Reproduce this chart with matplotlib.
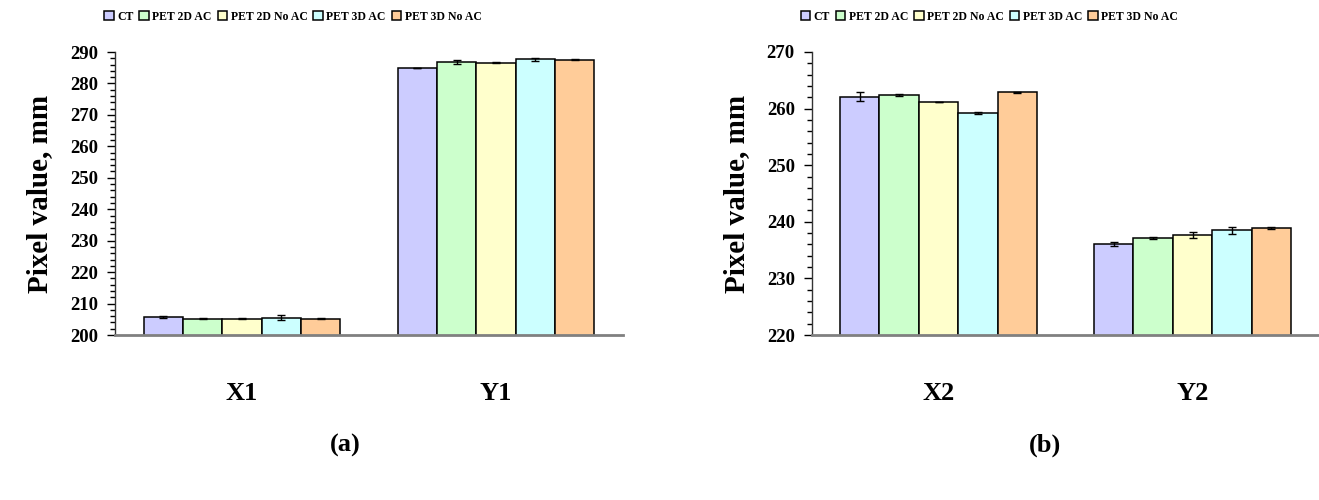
import numpy as np
import matplotlib.pyplot as plt
from matplotlib.ticker import MultipleLocator

# Data
series = ['CT', 'PET 2D AC', 'PET 2D No AC', 'PET 3D AC', 'PET 3D No AC']
colors = ['#CCCCFF', '#CCFFCC', '#FFFFCC', '#CCFFFF', '#FFCC99']

cats_a = ['X1', 'Y1']
vals_a = [[205.8, 284.9],
          [205.2, 286.8],
          [205.2, 286.6],
          [205.5, 287.7],
          [205.2, 287.6]]
errs_a = [[0.3, 0.1],
          [0.05, 0.5],
          [0.05, 0.15],
          [0.8, 0.5],
          [0.05, 0.15]]

cats_b = ['X2', 'Y2']
vals_b = [[262.1, 236.1],
          [262.4, 237.2],
          [261.2, 237.7],
          [259.2, 238.5],
          [262.9, 238.9]]
errs_b = [[0.8, 0.3],
          [0.15, 0.2],
          [0.05, 0.5],
          [0.2, 0.6],
          [0.1, 0.1]]

plt.rcParams['font.family'] = 'Liberation Serif'
plt.rcParams['font.weight'] = 'bold'


def panel(ax, cats, vals, errs, ylim, letter, letter_x):
    x = np.arange(len(cats))
    w = 0.155
    for i, name in enumerate(series):
        ax.bar(x + (i - 2) * w, vals[i], w, yerr=errs[i], color=colors[i],
               edgecolor='black', linewidth=1.1, label=name,
               error_kw=dict(ecolor='black', elinewidth=1, capsize=3, capthick=1))
    ax.set_xlim(-0.5, 1.5)
    ax.set_ylim(*ylim)
    ax.yaxis.set_major_locator(MultipleLocator(10))
    ax.yaxis.set_minor_locator(MultipleLocator(2))
    ax.set_xticks(x)
    ax.set_xticklabels(cats, fontsize=19, fontweight='bold')
    ax.tick_params(axis='x', length=0, pad=34)
    ax.tick_params(axis='y', which='major', length=6, width=1, labelsize=13.5, pad=6)
    ax.tick_params(axis='y', which='minor', length=3.5, width=1)
    for t in ax.get_yticklabels():
        t.set_fontweight('bold')
    ax.spines['top'].set_visible(False)
    ax.spines['right'].set_visible(False)
    ax.spines['bottom'].set_color('#808080')
    ax.spines['bottom'].set_linewidth(2)
    ax.spines['left'].set_color('#333333')
    ax.spines['left'].set_linewidth(1)
    ax.set_ylabel('Pixel value, mm', fontsize=21, fontweight='bold', labelpad=12)
    ax.legend(loc='center', bbox_to_anchor=(0.35, 1.124), ncol=5, frameon=False,
              prop={'size': 8.5, 'weight': 'bold'}, handlelength=0.8, handleheight=0.8,
              handletextpad=0.3, columnspacing=0.5, borderaxespad=0)
    fig.text(letter_x, 0.11, letter, fontsize=19, fontweight='bold', ha='center', va='center')


fig = plt.figure(figsize=(13.19, 5.0), dpi=100)
ax1 = fig.add_axes([115 / 1319, 0.33, 508 / 1319, 0.566])
ax2 = fig.add_axes([811.5 / 1319, 0.33, 508 / 1319, 0.566])

panel(ax1, cats_a, vals_a, errs_a, (200, 290), '(a)', 345 / 1319)
panel(ax2, cats_b, vals_b, errs_b, (220, 270), '(b)', 1045 / 1319)

fig.savefig('out.png', dpi=100)
